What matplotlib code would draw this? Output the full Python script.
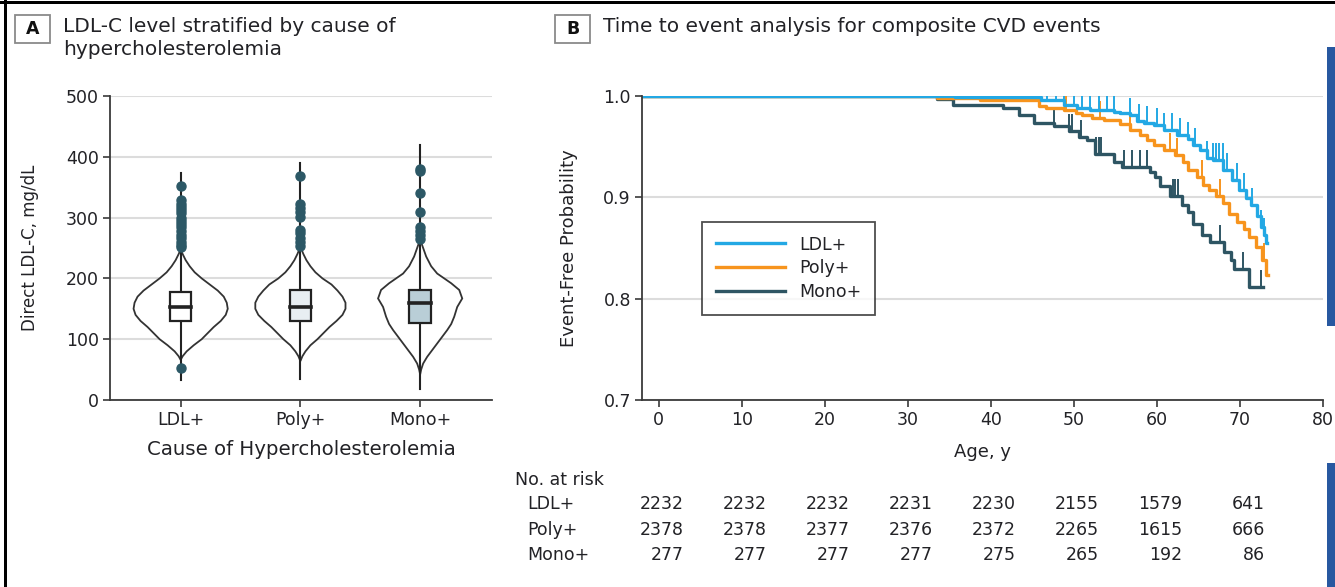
import matplotlib.pyplot as plt
import numpy as np
from matplotlib.path import Path
from matplotlib.patches import Rectangle

plt.rcParams['font.family'] = ['DejaVu Sans']
TXT = '#222226'

# ---- panel A data: LDL-C by cause ----
groups = ['LDL+', 'Poly+', 'Mono+']
q1 = [130, 130, 127]
med = [153, 153, 160]
q3 = [178, 181, 181]
lo = [33, 34, 18]
hi = [374, 390, 419]
outliers = [
    [352, 329, 323, 318, 313, 308, 300, 295, 290, 284, 278, 272, 266, 260, 255, 251, 53],
    [369, 322, 316, 310, 301, 280, 274, 267, 260, 254],
    [380, 377, 341, 309, 285, 278, 271, 265],
]
# violin outline: LDL-C level and density (half width, arbitrary units)
vio_lvl = [
    [248, 240, 230, 220, 210, 200, 190, 180, 170, 160, 150, 140, 130, 120, 110, 100, 90, 80, 72, 66],
    [252, 240, 230, 220, 210, 200, 190, 180, 170, 160, 150, 140, 130, 120, 110, 100, 90, 80, 72, 64],
    [264, 250, 236, 220, 208, 200, 192, 181, 167, 153, 137, 125, 115, 104, 93, 82, 71, 60, 50, 42],
]
vio_dens = [
    [0, 2, 5, 9, 14, 21, 29, 37, 43, 46, 47, 45, 40, 33, 27, 21, 13, 6, 2, 0],
    [0, 3, 6, 10, 15, 22, 31, 37, 42, 45, 45, 42, 36, 29, 23, 17, 10, 5, 2, 0],
    [0, 3, 6, 11, 17, 24, 31, 39, 42, 37, 34, 31, 27, 22, 17, 12, 7, 3, 1, 0],
]
box_fill = ['white', '#e8eef2', '#b9ced7']

# ---- panel B data: Kaplan-Meier, event-free probability by age ----
ldl_t = [35.7, 46.0, 48.8, 50.4, 52.0, 54.8, 55.6, 56.8, 57.6, 58.4, 59.6, 60.8, 62.4, 63.8,
         64.4, 65.2, 66.0, 66.7, 68.0, 69.1, 69.9, 70.7, 71.3, 72.1, 72.5, 72.9, 73.1]
ldl_s = [0.999, 0.996, 0.991, 0.988, 0.986, 0.9845, 0.983, 0.981, 0.975, 0.973, 0.971, 0.966,
         0.9615, 0.958, 0.952, 0.947, 0.9385, 0.937, 0.927, 0.917, 0.907, 0.899, 0.892, 0.882,
         0.871, 0.863, 0.855]
ldl_end = 73.3
ldl_cens = [46.8, 47.8, 48.8, 50.0, 51.0, 52.0, 53.0, 54.0, 54.8, 56.8, 57.8, 58.8, 60.0, 60.8,
            61.8, 62.8, 63.8, 64.6, 66.0, 66.7, 67.1, 67.5, 67.9, 68.5, 69.7, 70.5, 71.5, 72.5, 72.9]

poly_t = [33.5, 38.7, 45.8, 46.6, 48.8, 50.2, 51.0, 52.2, 53.6, 55.6, 56.8, 58.0, 58.8, 59.6,
          60.8, 62.2, 63.2, 63.8, 64.8, 65.6, 66.3, 67.1, 67.9, 68.7, 69.7, 70.5, 71.1, 71.9,
          72.7, 73.1]
poly_s = [0.998, 0.996, 0.9905, 0.988, 0.986, 0.983, 0.981, 0.978, 0.976, 0.972, 0.966, 0.9615,
          0.957, 0.952, 0.947, 0.942, 0.935, 0.927, 0.920, 0.912, 0.907, 0.901, 0.894, 0.884,
          0.876, 0.869, 0.861, 0.851, 0.838, 0.823]
poly_end = 73.4
poly_cens = [49.0, 53.2, 56.8, 61.6, 62.4, 65.4, 67.6, 72.9]

mono_t = [33.5, 35.5, 41.5, 43.4, 45.2, 47.6, 49.4, 50.6, 51.6, 52.6, 54.8, 55.8, 59.2, 59.8,
          60.4, 61.6, 63.0, 63.8, 64.4, 65.4, 66.4, 68.1, 68.9, 69.3, 71.1]
mono_s = [0.997, 0.991, 0.988, 0.981, 0.973, 0.970, 0.965, 0.960, 0.957, 0.943, 0.935, 0.930,
          0.925, 0.920, 0.911, 0.901, 0.892, 0.886, 0.874, 0.863, 0.856, 0.846, 0.838, 0.829,
          0.812]
mono_end = 72.8
mono_cens = [47.6, 49.4, 49.8, 50.9, 52.7, 53.0, 53.3, 56.0, 57.0, 58.0, 58.8, 61.9, 62.2,
             62.5, 67.6, 70.4, 72.5]

risk_ages = [0, 10, 20, 30, 40, 50, 60, 70]
risk_ldl = [2232, 2232, 2232, 2231, 2230, 2155, 1579, 641]
risk_poly = [2378, 2378, 2377, 2376, 2372, 2265, 1615, 666]
risk_mono = [277, 277, 277, 277, 275, 265, 192, 86]

km_colors = {'LDL+': '#23a8e4', 'Poly+': '#f7941d', 'Mono+': '#2e5563'}

W, H = 1335, 587
fig = plt.figure(figsize=(W / 100, H / 100), dpi=100)


def fx(px):
    return px / W


def fy(py):
    return 1 - py / H


def style_axes(ax):
    for s in ['top', 'right']:
        ax.spines[s].set_visible(False)
    for s in ['left', 'bottom']:
        ax.spines[s].set_color('#3a3a3a')
        ax.spines[s].set_linewidth(1.3)
    ax.tick_params(length=5, width=1.2, color='#3a3a3a', labelsize=12.5, labelcolor=TXT, pad=3)
    ax.set_axisbelow(True)


# ---------------- Panel A ----------------
axA = fig.add_axes([fx(110), fy(400), fx(382), 304 / H])
style_axes(axA)
hw_scale = 1 / 119.5
for i in range(3):
    lv = np.array(vio_lvl[i])
    d = np.array(vio_dens[i]) * hw_scale
    xs = np.r_[i - d, (i + d)[::-1]]
    ys = np.r_[lv, lv[::-1]]
    axA.fill(xs, ys, facecolor='white', edgecolor='#333333', lw=1.3, zorder=2)
    axA.plot([i, i], [lo[i], hi[i]], color='#222222', lw=1.5, zorder=3)
    axA.add_patch(Rectangle((i - 0.09, q1[i]), 0.18, q3[i] - q1[i], facecolor=box_fill[i],
                            edgecolor='#222222', lw=1.6, zorder=4))
    axA.plot([i - 0.09, i + 0.09], [med[i], med[i]], color='#222222', lw=2.6, zorder=5)
    axA.plot([i] * len(outliers[i]), outliers[i], 'o', color='#2c5866', ms=6.5, zorder=6)

axA.set_xlim(-0.59, 2.6)
axA.set_ylim(0, 500)
axA.set_yticks([0, 100, 200, 300, 400, 500])
axA.set_xticks(range(3))
axA.set_xticklabels(groups)
axA.yaxis.grid(True, color='#dcdcdc', lw=1.5)
axA.set_ylabel('Direct LDL-C, mg/dL', fontsize=12, color=TXT)
axA.yaxis.set_label_coords(-0.185, 0.5)
axA.set_xlabel('Cause of Hypercholesterolemia', fontsize=14.2, color=TXT)
axA.xaxis.set_label_coords(0.5, -0.132)

# ---------------- Panel B ----------------
axB = fig.add_axes([fx(642), fy(400), fx(681), 304 / H])
style_axes(axB)
tick_up = Path([(0, 0), (0, 1)], [Path.MOVETO, Path.LINETO])
series = [('Mono+', mono_t, mono_s, mono_end, mono_cens),
          ('Poly+', poly_t, poly_s, poly_end, poly_cens),
          ('LDL+', ldl_t, ldl_s, ldl_end, ldl_cens)]
lines = {}
for name, t, s, end, cens in series:
    tt = np.r_[-2, t, end]
    ss = np.r_[1.0, s, s[-1]]
    ln, = axB.step(tt, ss, where='post', color=km_colors[name], lw=2.4, label=name)
    lines[name] = ln
    idx = np.searchsorted(tt, cens, side='right') - 1
    axB.plot(cens, ss[idx], linestyle='none', marker=tick_up, ms=25, mew=1.4,
             color=km_colors[name])

axB.set_xlim(-2, 80)
axB.set_ylim(0.7, 1.0)
axB.set_xticks(range(0, 81, 10))
axB.set_yticks([0.7, 0.8, 0.9, 1.0])
axB.set_yticklabels(['0.7', '0.8', '0.9', '1.0'])
axB.yaxis.grid(True, color='#dcdcdc', lw=1.5)
axB.set_ylabel('Event-Free Probability', fontsize=13, color=TXT)
axB.yaxis.set_label_coords(-0.094, 0.5)
axB.set_xlabel('Age, y', fontsize=13, color=TXT)
axB.xaxis.set_label_coords(0.5, -0.14)
leg = axB.legend([lines['LDL+'], lines['Poly+'], lines['Mono+']], ['LDL+', 'Poly+', 'Mono+'],
                 loc='lower left', bbox_to_anchor=(0.088, 0.28), borderaxespad=0,
                 fontsize=12.5, frameon=True, fancybox=False, handlelength=4.0,
                 handletextpad=0.8, borderpad=0.8, labelspacing=0.33)
leg.get_frame().set_edgecolor('#222222')
leg.get_frame().set_linewidth(1.3)
for tx in leg.get_texts():
    tx.set_color(TXT)

# number at risk table
fig.text(fx(515), fy(480), 'No. at risk', fontsize=12.5, color=TXT, va='center')
rows = [('LDL+', risk_ldl, 504), ('Poly+', risk_poly, 530), ('Mono+', risk_mono, 555)]
for name, vals, py in rows:
    fig.text(fx(527), fy(py), name, fontsize=12.5, color=TXT, va='center')
    for a, v in zip(risk_ages, vals):
        x_disp = axB.transData.transform((a + 3, 0.8))[0]
        fig.text(x_disp / W, fy(py), str(v), fontsize=12.5, color=TXT, va='center', ha='right')

# ---------------- panel headers and page furniture ----------------
for px, lab, title in [(15, 'A', 'LDL-C level stratified by cause of\nhypercholesterolemia'),
                       (555, 'B', 'Time to event analysis for composite CVD events')]:
    fig.patches.append(Rectangle((fx(px), fy(43)), fx(35), 28 / H, transform=fig.transFigure,
                                 facecolor='white', edgecolor='#8a8a8a', lw=1.3))
    fig.text(fx(px + 17.5), fy(29), lab, fontsize=12.5, fontweight='bold', color='#111111',
             ha='center', va='center')
    fig.text(fx(px + 48), fy(17), title, fontsize=14.5, color=TXT, ha='left', va='top',
             linespacing=1.25)

fig.patches.append(Rectangle((0, fy(4)), 1, 3 / H, transform=fig.transFigure,
                             facecolor='black', edgecolor='none'))
fig.patches.append(Rectangle((fx(4), 0), 2.5 / W, 1, transform=fig.transFigure,
                             facecolor='black', edgecolor='none'))
fig.patches.append(Rectangle((fx(1327), fy(326)), 8 / W, 279 / H, transform=fig.transFigure,
                             facecolor='#2858a0', edgecolor='none'))
fig.patches.append(Rectangle((fx(1327), 0), 8 / W, 124 / H, transform=fig.transFigure,
                             facecolor='#2858a0', edgecolor='none'))

fig.savefig('out.png', dpi=100)
